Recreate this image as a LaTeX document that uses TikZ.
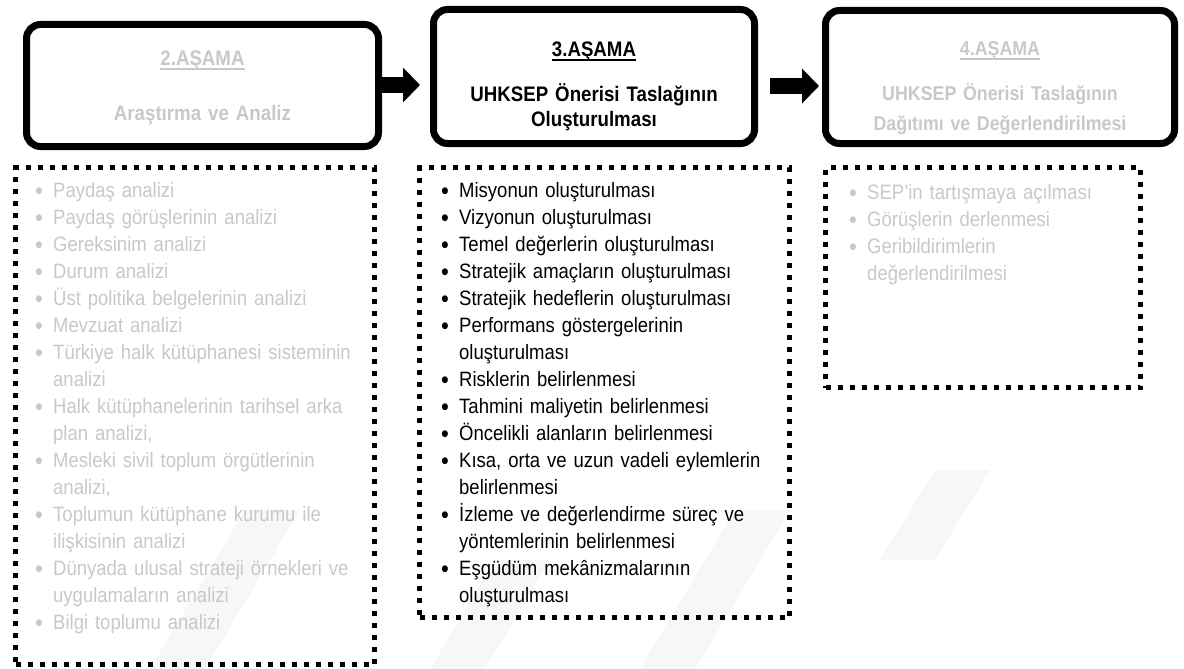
\documentclass[tikz,border=0pt]{standalone}
\usepackage{fontspec}
\setmainfont{Liberation Sans}[FakeStretch=0.89]
\usetikzlibrary{arrows.meta}

\definecolor{fadegray}{RGB}{200,200,200}
\definecolor{markgray}{RGB}{247,247,247}

\newcommand{\bl}{\makebox[18pt][l]{\raisebox{-2.5pt}{\fontsize{25}{27}\selectfont\textbullet}}}
\newcommand{\bc}{\hspace*{18pt}}
\newcommand{\ultitle}[1]{\setbox0\hbox{#1}\rlap{\rule[-4pt]{\wd0}{1.8pt}}\box0}

\begin{document}
\begin{tikzpicture}[x=1pt, y=-1pt, >={Triangle[length=17pt, width=34pt]},
    stage/.style = {draw, line width=7pt, rounded corners=14pt, inner sep=0pt, align=center, text height=0pt, font=\bfseries\fontsize{21}{25}\selectfont},
    dotframe/.style = {draw, line width=5pt, dash pattern=on 5pt off 7pt, inner sep=0pt},
    itemlist/.style = {anchor=base west, inner sep=0pt, text width=340pt, align=left, font=\fontsize{20.8}{27}\selectfont},
    bigarrow/.style = {->, line width=16pt}]
  \useasboundingbox (0,0) rectangle (1184,669);

  % faint stripes in the background
  \fill[markgray] (150,669) -- (205,669) -- (300,510) -- (245,510) -- cycle;
  \fill[markgray] (430,669) -- (485,669) -- (550,560) -- (495,560) -- cycle;
  \fill[markgray] (640,669) -- (695,669) -- (790,510) -- (735,510) -- cycle;
  \fill[markgray] (880,560) -- (935,560) -- (990,470) -- (935,470) -- cycle;

  % Stage boxes
  \node[stage, text width=330pt, minimum width=352pt, minimum height=122pt, text depth=39pt, text=fadegray] (s2) at (202.5,85.5)
    {\ultitle{2.AŞAMA}\\[30pt]Araştırma ve Analiz};
  \node[stage, text width=310pt, minimum width=321pt, minimum height=134pt, text depth=39pt] (s3) at (594,76.5)
    {\ultitle{3.AŞAMA}\\[20pt]UHKSEP Önerisi Taslağının\\Oluşturulması};
  \node[stage, text width=330pt, minimum width=349pt, minimum height=133pt, text depth=42pt, text=fadegray, font=\bfseries\fontsize{20}{30}\selectfont] (s4) at (1000,77)
    {\ultitle{4.AŞAMA}\\[15pt]UHKSEP Önerisi Taslağının\\Dağıtımı ve Değerlendirilmesi};

  % Dotted frames
  \node[dotframe, minimum width=359pt, minimum height=497pt] (f2) at (195,416) {};
  \node[dotframe, minimum width=370pt, minimum height=450pt] (f3) at (604.5,392.5) {};
  \node[dotframe, minimum width=315pt, minimum height=220pt] (f4) at (983,277.5) {};

  % Lists
  \node[itemlist, text=fadegray] (l2) at (35,197) {%
    \bl Paydaş analizi\\
    \bl Paydaş görüşlerinin analizi\\
    \bl Gereksinim analizi\\
    \bl Durum analizi\\
    \bl Üst politika belgelerinin analizi\\
    \bl Mevzuat analizi\\
    \bl Türkiye halk kütüphanesi sisteminin\\
    \bc analizi\\
    \bl Halk kütüphanelerinin tarihsel arka\\
    \bc plan analizi,\\
    \bl Mesleki sivil toplum örgütlerinin\\
    \bc analizi,\\
    \bl Toplumun kütüphane kurumu ile\\
    \bc ilişkisinin analizi\\
    \bl Dünyada ulusal strateji örnekleri ve\\
    \bc uygulamaların analizi\\
    \bl Bilgi toplumu analizi};
  \node[itemlist] (l3) at (441,197) {%
    \bl Misyonun oluşturulması\\
    \bl Vizyonun oluşturulması\\
    \bl Temel değerlerin oluşturulması\\
    \bl Stratejik amaçların oluşturulması\\
    \bl Stratejik hedeflerin oluşturulması\\
    \bl Performans göstergelerinin\\
    \bc oluşturulması\\
    \bl Risklerin belirlenmesi\\
    \bl Tahmini maliyetin belirlenmesi\\
    \bl Öncelikli alanların belirlenmesi\\
    \bl Kısa, orta ve uzun vadeli eylemlerin\\
    \bc belirlenmesi\\
    \bl İzleme ve değerlendirme süreç ve\\
    \bc yöntemlerinin belirlenmesi\\
    \bl Eşgüdüm mekânizmalarının\\
    \bc oluşturulması};
  \node[itemlist, text=fadegray] (l4) at (849,199) {%
    \bl SEP’in tartışmaya açılması\\
    \bl Görüşlerin derlenmesi\\
    \bl Geribildirimlerin\\
    \bc değerlendirilmesi};

  % Arrows between stages
  \draw[bigarrow, shorten >=10pt] ([yshift=0.5pt]s2.east) -- ([yshift=-8.5pt]s3.west);
  \draw[bigarrow, shorten <=12pt, shorten >=3pt] ([yshift=-9.5pt]s3.east) -- ([yshift=-9pt]s4.west);

\end{tikzpicture}
\end{document}
